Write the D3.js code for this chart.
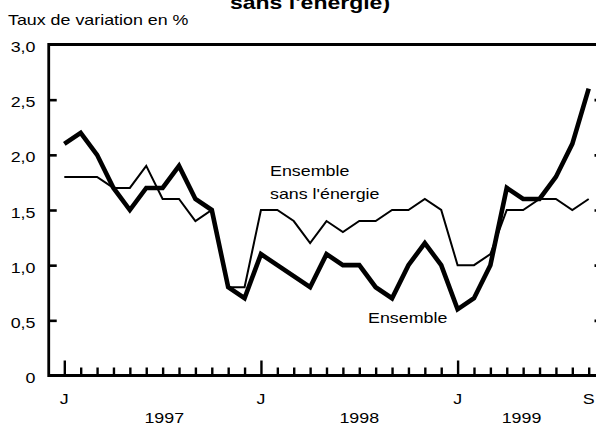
<!DOCTYPE html>
<html>
<head>
<meta charset="utf-8">
<script src="https://cdn.jsdelivr.net/npm/d3@7"></script>
<style>
  body { margin: 0; background: #fff; }
  svg { display: block; }
  text { font-family: "Liberation Sans", Arial, sans-serif; fill: #000; }
</style>
</head>
<body>
<svg width="596" height="425"></svg>
<script>
// monthly points, Jan 1997 .. Sep 1999
const months = d3.range(33);
const ensemble = [2.1, 2.2, 2.0, 1.7, 1.5, 1.7, 1.7, 1.9, 1.6, 1.5, 0.8, 0.7,
                  1.1, 1.0, 0.9, 0.8, 1.1, 1.0, 1.0, 0.8, 0.7, 1.0, 1.2, 1.0,
                  0.6, 0.7, 1.0, 1.7, 1.6, 1.6, 1.8, 2.1, 2.6];
const sansEnergie = [1.8, 1.8, 1.8, 1.7, 1.7, 1.9, 1.6, 1.6, 1.4, 1.5, 0.8, 0.8,
                     1.5, 1.5, 1.4, 1.2, 1.4, 1.3, 1.4, 1.4, 1.5, 1.5, 1.6, 1.5,
                     1.0, 1.0, 1.1, 1.5, 1.5, 1.6, 1.6, 1.5, 1.6];
const yTicks = [0, 0.5, 1, 1.5, 2, 2.5, 3];
const yTickLabels = ['0', '0,5', '1,0', '1,5', '2,0', '2,5', '3,0'];
const majorMonths = [0, 12, 24];
const xLabelIdx = [0, 12, 24, 32];
const xLabels = ['J', 'J', 'J', 'S'];
const years = ['1997', '1998', '1999'];
const yearIdx = [6.1, 18, 27.9];

const svg = d3.select('svg');
const sx = 1.23; // the original picture is stretched sideways

const x = d3.scaleLinear().domain([0, 32]).range([64.3, 588.7]);
const y = d3.scaleLinear().domain([0, 3]).range([375.5, 44.5]);
const left = x(-0.95), right = 602.5;

function addText(px, py, str, anchor, size, weight) {
    return svg.append('text')
        .attr('transform', 'translate(' + px + ',' + py + ') scale(' + sx + ',1)')
        .attr('text-anchor', anchor)
        .style('font-size', size + 'px')
        .style('font-weight', weight || 'normal')
        .text(str);
}

// frame: left, top, bottom
svg.append('path')
    .attr('d', 'M' + right + ',' + y(3) + 'H' + left + 'V' + y(0) + 'H' + right)
    .attr('fill', 'none').attr('stroke', '#000').attr('stroke-width', 2.8);

// y ticks, inward on both sides
const yAxisL = d3.axisLeft(y).tickValues(yTicks.slice(1, -1)).tickSizeInner(-8).tickSizeOuter(0).tickFormat('');
const gl = svg.append('g').attr('transform', 'translate(' + left + ',0)').call(yAxisL);
const yAxisR = d3.axisRight(y).tickValues(yTicks.slice(1, -1)).tickSizeInner(-8).tickSizeOuter(0).tickFormat('');
const gr = svg.append('g').attr('transform', 'translate(' + right + ',0)').call(yAxisR);
[gl, gr].forEach(g => {
    g.select('.domain').remove();
    g.selectAll('line').attr('stroke', '#000').attr('stroke-width', 2.6);
});

// month ticks along the bottom
const xAxis = d3.axisBottom(x).tickValues(months).tickSizeOuter(0).tickFormat('')
    .tickSizeInner(-8);
const gx = svg.append('g').attr('transform', 'translate(0,' + y(0) + ')').call(xAxis);
gx.select('.domain').remove();
gx.selectAll('line')
    .attr('stroke', '#000').attr('stroke-width', 2.4)
    .attr('y2', d => majorMonths.includes(d) ? -15 : -8);

// tick labels
yTicks.forEach((v, i) => addText(35.5, y(v) + 7.5, yTickLabels[i], 'end', 14.5));
xLabelIdx.forEach((m, i) => addText(x(m), 404, xLabels[i], 'middle', 14.5));
years.forEach((t, i) => addText(x(yearIdx[i]), 423, t, 'middle', 14.5));

// lines
const line = d3.line().x((d, i) => x(months[i])).y(d => y(d));
svg.append('path').datum(sansEnergie)
    .attr('d', line).attr('fill', 'none').attr('stroke', '#000').attr('stroke-width', 2);
svg.append('path').datum(ensemble)
    .attr('d', line).attr('fill', 'none').attr('stroke', '#000').attr('stroke-width', 4.6);

// titles and annotations
addText(310, 9, "sans l'énergie)", 'middle', 18.7, 'bold');
addText(8, 25, 'Taux de variation en %', 'start', 14.5);
addText(270, 176, 'Ensemble', 'start', 14.5);
addText(270, 199, "sans l'énergie", 'start', 14.5);
addText(368, 323, 'Ensemble', 'start', 14.5);
</script>
</body>
</html>
